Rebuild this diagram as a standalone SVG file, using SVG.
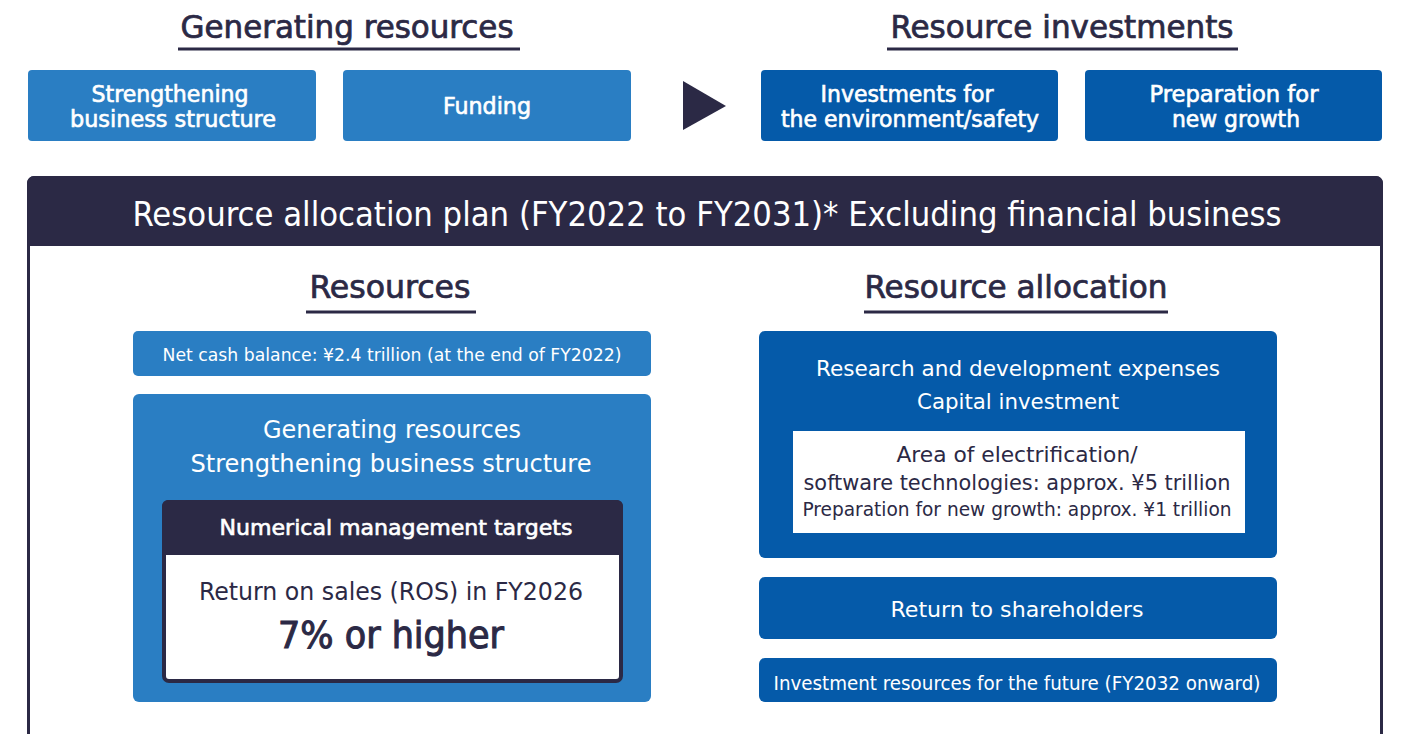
<svg xmlns="http://www.w3.org/2000/svg" width="1401" height="734" viewBox="0 0 1401 734">
<style>
text{font-family:"DejaVu Sans Condensed","Liberation Sans Narrow","Roboto",sans-serif;text-anchor:middle}
.h{fill:#2b2945;font-size:32px;stroke:#2b2945;stroke-width:0.7}
.mw{stroke:#ffffff;stroke-width:0.6}
.mt{stroke:#2b2945;stroke-width:1}
.ul{stroke:#2b2945;stroke-width:3}
.lb{fill:#2a7ec3}
.db{fill:#055aa9}
.nv{fill:#2b2945}
.w{fill:#ffffff}
.t{fill:#2b2945}
</style>
<rect width="1401" height="734" fill="#ffffff"/>
<g id="title-generating">
<text class="h" x="347" y="38" textLength="333" lengthAdjust="spacingAndGlyphs">Generating resources</text>
<line class="ul" x1="178" y1="49" x2="520" y2="49"/>
</g>
<g id="title-investments">
<text class="h" x="1062" y="38" textLength="343" lengthAdjust="spacingAndGlyphs">Resource investments</text>
<line class="ul" x1="887" y1="49" x2="1238" y2="49"/>
</g>
<g id="box-strengthening">
<rect class="lb" x="28" y="70" width="288" height="71" rx="4"/>
<text class="w mw" font-size="23" x="170" y="102" textLength="157" lengthAdjust="spacingAndGlyphs">Strengthening</text>
<text class="w mw" font-size="23" x="173" y="127" textLength="206" lengthAdjust="spacingAndGlyphs">business structure</text>
</g>
<g id="box-funding">
<rect class="lb" x="343" y="70" width="288" height="71" rx="4"/>
<text class="w mw" font-size="23" x="487" y="114" textLength="88" lengthAdjust="spacingAndGlyphs">Funding</text>
</g>
<g id="box-env">
<rect class="db" x="761" y="70" width="297" height="71" rx="4"/>
<text class="w mw" font-size="23" x="907" y="102" textLength="173" lengthAdjust="spacingAndGlyphs">Investments for</text>
<text class="w mw" font-size="23" x="910" y="127" textLength="258" lengthAdjust="spacingAndGlyphs">the environment/safety</text>
</g>
<g id="box-growth">
<rect class="db" x="1085" y="70" width="297" height="71" rx="4"/>
<text class="w mw" font-size="23" x="1234" y="102" textLength="169" lengthAdjust="spacingAndGlyphs">Preparation for</text>
<text class="w mw" font-size="23" x="1236" y="127" textLength="128" lengthAdjust="spacingAndGlyphs">new growth</text>
</g>
<g id="connectors">
<polygon class="nv" points="683,81 726,106 683,130"/>
<polygon class="nv" points="683,468 726,492 683,517"/>
</g>
<g id="plan-frame">
<rect x="28.5" y="177.5" width="1353" height="570" rx="6" fill="#ffffff" stroke="#2b2945" stroke-width="3"/>
<path class="nv" d="M27,246 V183 a7,7 0 0 1 7,-7 H1376 a7,7 0 0 1 7,7 V246 Z"/>
<text class="w" font-size="34" x="707" y="226" textLength="1149" lengthAdjust="spacingAndGlyphs">Resource allocation plan (FY2022 to FY2031)* Excluding financial business</text>
</g>
<g id="title-resources">
<text class="h" x="390" y="298" textLength="161" lengthAdjust="spacingAndGlyphs">Resources</text>
<line class="ul" x1="306" y1="312" x2="476" y2="312"/>
</g>
<g id="title-allocation">
<text class="h" x="1016" y="298" textLength="303" lengthAdjust="spacingAndGlyphs">Resource allocation</text>
<line class="ul" x1="864" y1="312" x2="1168" y2="312"/>
</g>
<g id="box-netcash">
<rect class="lb" x="133" y="331" width="518" height="45" rx="5"/>
<text class="w" font-size="18" x="392" y="361" textLength="459" lengthAdjust="spacingAndGlyphs">Net cash balance: ¥2.4 trillion (at the end of FY2022)</text>
</g>
<g id="box-generating">
<rect class="lb" x="133" y="394" width="518" height="308" rx="6"/>
<text class="w" font-size="24" x="392" y="438" textLength="258" lengthAdjust="spacingAndGlyphs">Generating resources</text>
<text class="w" font-size="24" x="391" y="472" textLength="401" lengthAdjust="spacingAndGlyphs">Strengthening business structure</text>
</g>
<g id="box-targets">
<rect x="164" y="502" width="457" height="179" rx="5" fill="#ffffff" stroke="#2b2945" stroke-width="4"/>
<path class="nv" d="M162,555 V506 a6,6 0 0 1 6,-6 H617 a6,6 0 0 1 6,6 V555 Z"/>
<text class="w mw" font-size="22" x="396" y="535" textLength="353" lengthAdjust="spacingAndGlyphs">Numerical management targets</text>
<text class="t" font-size="24" x="391" y="600" textLength="384" lengthAdjust="spacingAndGlyphs">Return on sales (ROS) in FY2026</text>
<text class="t mt" font-size="38" x="391" y="648" textLength="226" lengthAdjust="spacingAndGlyphs">7% or higher</text>
</g>
<g id="box-rnd">
<rect class="db" x="759" y="331" width="518" height="227" rx="6"/>
<text class="w" font-size="22" x="1018" y="376" textLength="404" lengthAdjust="spacingAndGlyphs">Research and development expenses</text>
<text class="w" font-size="22" x="1018" y="409" textLength="202" lengthAdjust="spacingAndGlyphs">Capital investment</text>
<rect class="w" x="793" y="431" width="452" height="102"/>
<text class="t" font-size="21" x="1017" y="462" textLength="241" lengthAdjust="spacingAndGlyphs">Area of electrification/</text>
<text class="t" font-size="21" x="1017" y="490" textLength="427" lengthAdjust="spacingAndGlyphs">software technologies: approx. ¥5 trillion</text>
<text class="t" font-size="20" x="1017" y="516" textLength="429" lengthAdjust="spacingAndGlyphs">Preparation for new growth: approx. ¥1 trillion</text>
</g>
<g id="box-return">
<rect class="db" x="759" y="577" width="518" height="62" rx="6"/>
<text class="w" font-size="22" x="1017" y="617" textLength="253" lengthAdjust="spacingAndGlyphs">Return to shareholders</text>
</g>
<g id="box-future">
<rect class="db" x="759" y="658" width="518" height="44" rx="6"/>
<text class="w" font-size="20" x="1017" y="690" textLength="487" lengthAdjust="spacingAndGlyphs">Investment resources for the future (FY2032 onward)</text>
</g>
</svg>
